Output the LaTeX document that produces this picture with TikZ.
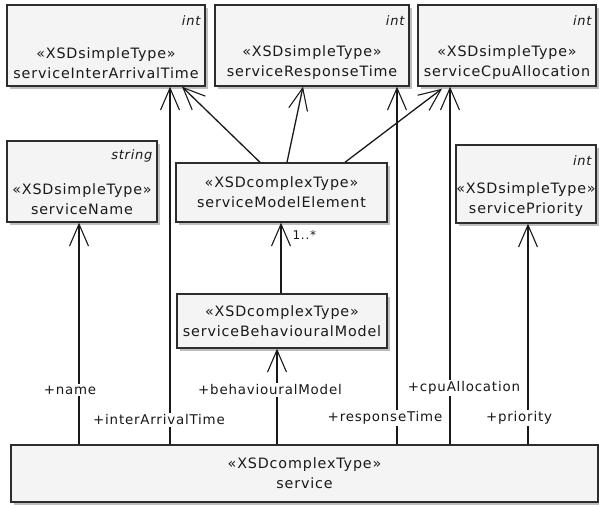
\documentclass[tikz,border=0pt]{standalone}
\usepackage{fontspec}
\setmainfont{DejaVu Sans}[LetterSpace=6]
\usetikzlibrary{arrows.meta,shadows}
\definecolor{boxfill}{RGB}{244,244,244}
\definecolor{boxline}{RGB}{45,45,45}
\definecolor{boxshadow}{RGB}{190,190,190}
\definecolor{ink}{RGB}{25,25,25}
\begin{document}
\begin{tikzpicture}[x=1pt,y=-1pt,
  every node/.style={font=\fontsize{14.3}{20}\selectfont, text=ink},
  umlbox/.style={draw=boxline, line width=1.4pt, fill=boxfill, inner sep=0pt,
    drop shadow={shadow xshift=3pt, shadow yshift=-3pt, fill=boxshadow, opacity=1}},
  typename/.style={align=center, inner sep=0pt},
  basetype/.style={anchor=east, inner sep=0pt, font=\fontsize{13}{20}\selectfont\itshape},
  assoc/.style={draw=ink, line width=1.3pt,
    -{Straight Barb[length=22pt,width=19pt,line width=1.1pt]}},
  rolelabel/.style={fill=white, inner sep=1.5pt, font=\fontsize{13.4}{16}\selectfont},
  mult/.style={font=\fontsize{12}{12}\selectfont, inner sep=0pt}]

\useasboundingbox (0,0) rectangle (599,505);

% simple types along the top
\node[umlbox, minimum width=198pt, minimum height=81pt] (iat) at (106,45.5) {};
\node[umlbox, minimum width=194pt, minimum height=81pt] (rt)  at (312,45.5) {};
\node[umlbox, minimum width=178pt, minimum height=81pt] (cpu) at (507,45.5) {};
% simple types in the middle row
\node[umlbox, minimum width=150pt, minimum height=81pt] (sname) at (82,181.5) {};
\node[umlbox, minimum width=140pt, minimum height=78pt] (prio)  at (526,184) {};
% complex types
\node[umlbox, minimum width=211pt, minimum height=59pt, typename] (me) at (281.5,192.5)
  {«XSDcomplexType»\\serviceModelElement};
\node[umlbox, minimum width=210pt, minimum height=54pt, typename] (bm) at (282,321)
  {«XSDcomplexType»\\serviceBehaviouralModel};
\node[umlbox, minimum width=587pt, minimum height=57pt, typename] (service) at (304.5,473.5)
  {«XSDcomplexType»\\service};

% texts of the simple types
\foreach \b/\t/\n in {iat/int/serviceInterArrivalTime, rt/int/serviceResponseTime,
    cpu/int/serviceCpuAllocation, sname/string/serviceName, prio/int/servicePriority}{
  \node[basetype] (\b-base) at ([xshift=-5pt,yshift=-16pt]\b.north east) {\t};
  \node[typename] (\b-text) at ([yshift=24pt]\b.south) {«XSDsimpleType»\\\n};
}

% x positions of the vertical associations
\coordinate (xname) at (79,0);
\coordinate (xiat)  at (170,0);
\coordinate (xbm)   at (277,0);
\coordinate (xmult) at (281,0);
\coordinate (xrt)   at (397,0);
\coordinate (xcpu)  at (450,0);
\coordinate (xprio) at (528,0);

% associations from service
\draw[assoc] (service.north -| xname) -- (sname.south -| xname);
\draw[assoc] (service.north -| xiat)  -- (iat.south -| xiat);
\draw[assoc] (service.north -| xbm)   -- (bm.south -| xbm);
\draw[assoc] (service.north -| xrt)   -- (rt.south -| xrt);
\draw[assoc] (service.north -| xcpu)  -- (cpu.south -| xcpu);
\draw[assoc] (service.north -| xprio) -- (prio.south -| xprio);

% behavioural model to model element
\draw[assoc] (bm.north -| xmult) -- (me.south -| xmult)
  node[mult, anchor=west, pos=0.82, xshift=11pt] (m1) {1..*};

% model element to the three simple types
\draw[assoc] ([xshift=-21.5pt]me.north) -- ([xshift=76pt]iat.south);
\draw[assoc] ([xshift=5.5pt]me.north)   -- ([xshift=-9pt]rt.south);
\draw[assoc] ([xshift=63.5pt]me.north)  -- ([xshift=-65pt,yshift=-2pt]cpu.south);

% role names
\node[rolelabel] (l-name) at (70,390)  {+name};
\node[rolelabel] (l-iat)  at (159,420) {+interArrivalTime};
\node[rolelabel] (l-bm)   at (270,390) {+behaviouralModel};
\node[rolelabel] (l-rt)   at (385,418) {+responseTime};
\node[rolelabel] (l-cpu)  at (464,388) {+cpuAllocation};
\node[rolelabel] (l-prio) at (519,418) {+priority};
\end{tikzpicture}
\end{document}
